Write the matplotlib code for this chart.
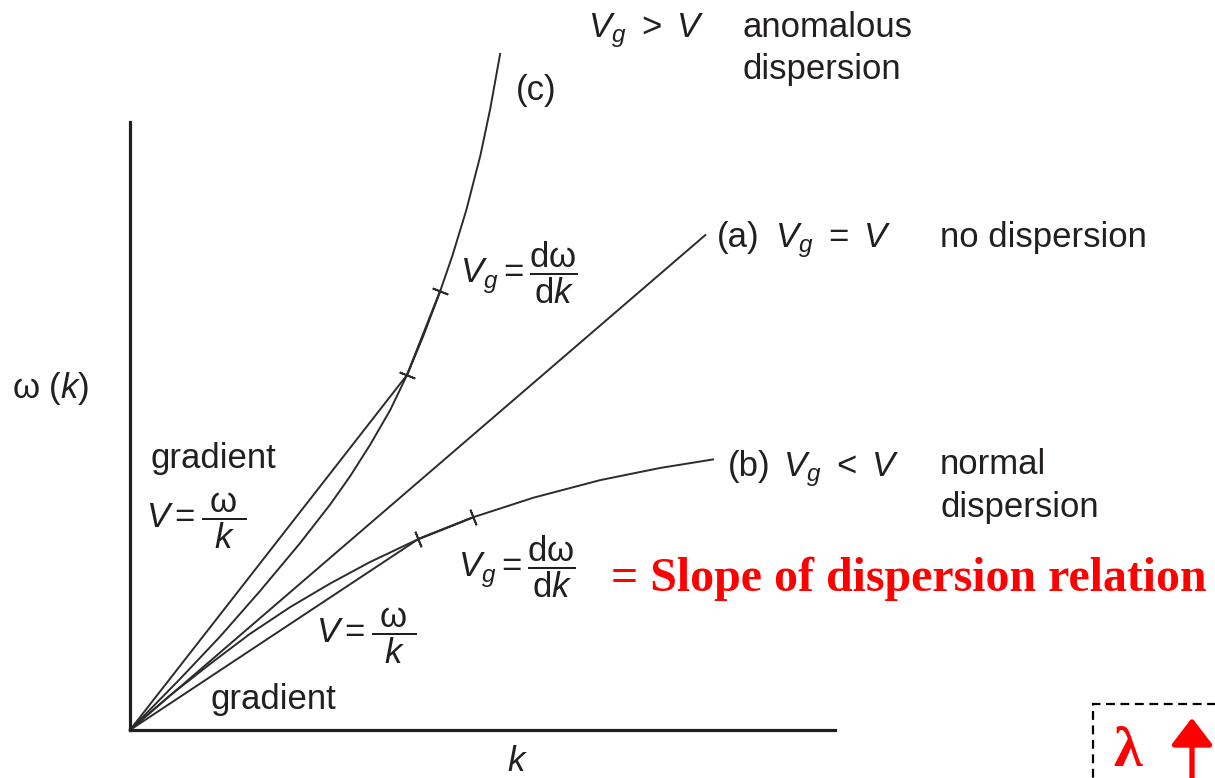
import numpy as np
import matplotlib
matplotlib.use('Agg')
import matplotlib.pyplot as plt
from matplotlib.patches import Rectangle, FancyArrowPatch

plt.rcParams['font.family'] = ['Liberation Sans', 'DejaVu Sans']
plt.rcParams['mathtext.fontset'] = 'custom'
plt.rcParams['mathtext.rm'] = 'Liberation Sans'
plt.rcParams['mathtext.it'] = 'Liberation Sans:italic'
plt.rcParams['mathtext.bf'] = 'Liberation Sans:bold'

W, H = 1215, 778

# dispersion curves, omega(k) in arbitrary units
k_anom = [0.0, 0.71, 1.28, 1.84, 2.41, 2.84, 3.12, 3.40, 3.69, 3.93, 4.16, 4.40,
          4.57, 4.77, 4.97, 5.11, 5.25]
w_anom = [0.0, 0.84, 1.54, 2.28, 3.07, 3.71, 4.17, 4.68, 5.26, 5.84, 6.48, 7.22,
          7.79, 8.55, 9.45, 10.22, 11.12]

k_norm = [0.0, 0.57, 1.14, 1.70, 2.27, 2.84, 3.40, 4.09, 4.87, 5.72, 6.67,
          7.52, 8.27]
w_norm = [0.0, 0.57, 1.09, 1.58, 2.02, 2.41, 2.76, 3.14, 3.50, 3.82, 4.11,
          4.31, 4.45]

k_lin = [0.0, 8.16]
w_lin = [0.0, 8.14]

# points where phase velocity (chord) and group velocity (tangent) are taken
anom_pts = [(3.93, 5.84), (4.40, 7.22)]
norm_pts = [(4.09, 3.14), (4.87, 3.50)]

line_col = '#2b2b2b'
axis_col = '#231f20'


def px(x, y):
    return x / W, 1 - y / H


fig = plt.figure(figsize=(W / 100, H / 100), dpi=100)
ax = fig.add_axes([130 / W, 48 / H, 705 / W, 608 / H])
ax.set_xlim(0, 10)
ax.set_ylim(0, 10)
for s in ['top', 'right']:
    ax.spines[s].set_visible(False)
for s in ['left', 'bottom']:
    ax.spines[s].set_linewidth(2.3)
    ax.spines[s].set_color(axis_col)
ax.set_xticks([])
ax.set_yticks([])
ax.patch.set_alpha(0)

ax.plot(k_anom, w_anom, color=line_col, lw=1.4, clip_on=False)
ax.plot(k_norm, w_norm, color=line_col, lw=1.4, clip_on=False)
ax.plot(k_lin, w_lin, color=line_col, lw=1.4, clip_on=False)


def chord_and_tangent(pts):
    (x1, y1), (x2, y2) = pts
    ax.plot([0, x1], [0, y1], color=line_col, lw=1.4, clip_on=False)
    ax.plot([x1, x2], [y1, y2], color=line_col, lw=1.6, clip_on=False)
    d = ax.transData.transform([(x2, y2)]) - ax.transData.transform([(x1, y1)])
    ang = np.degrees(np.arctan2(d[0][1], d[0][0]))
    for x, y in pts:
        ax.plot([x], [y], marker=(2, 2, ang), ms=12, mew=1.3,
                color=line_col, clip_on=False)


chord_and_tangent(anom_pts)
chord_and_tangent(norm_pts)

fs = 25
txt = dict(fontsize=fs, color='#231f20', va='baseline', ha='left')

fig.text(*px(588, 37), r'$V_g\ >\ V$', **txt)
fig.text(*px(743, 37), 'anomalous', **txt)
fig.text(*px(743, 79), 'dispersion', **txt)
fig.text(*px(516, 100), '(c)', **txt)

fig.text(*px(717, 247), '(a)', **txt)
fig.text(*px(775, 247), r'$V_g\ =\ V$', **txt)
fig.text(*px(940, 247), 'no dispersion', **txt)

fig.text(*px(728, 476), '(b)', **txt)
fig.text(*px(783, 476), r'$V_g\ <\ V$', **txt)
fig.text(*px(940, 474), 'normal', **txt)
fig.text(*px(940, 517), 'dispersion', **txt)

frac_g = r'$V_g = \dfrac{\mathrm{d\omega}}{\mathrm{d}k}$'
frac_p = r'$V = \dfrac{\;\mathrm{\omega}\;}{k}$'
fig.text(*px(460, 283), frac_g, **txt)
fig.text(*px(458, 577), frac_g, **txt)
fig.text(*px(146, 528), frac_p, **txt)
fig.text(*px(316, 643), frac_p, **txt)

fig.text(*px(150, 468), 'gradient', **txt)
fig.text(*px(210, 709), 'gradient', **txt)

fig.text(*px(12, 398), r'$\mathrm{\omega}\ (k)$', **txt)
fig.text(*px(507, 771), r'$k$', **txt)

fig.text(*px(611, 591), '= Slope of dispersion relation', fontsize=34.5,
         color='red', fontweight='bold', family=['Liberation Serif', 'DejaVu Serif'],
         va='baseline', ha='left')

box = Rectangle(px(1093, 800), 200 / W, 96 / H, transform=fig.transFigure,
                fill=False, edgecolor='black', lw=1.6, linestyle=(0, (4, 2.5)),
                clip_on=False)
fig.patches.append(box)
fig.text(*px(1113, 766), 'λ', fontsize=42, color='red', fontweight='bold',
         family=['Liberation Serif', 'DejaVu Serif'], va='baseline', ha='left')
arrow = FancyArrowPatch(px(1192, 800), px(1192, 715), transform=fig.transFigure,
                        arrowstyle='-|>,head_length=0.55,head_width=0.42',
                        mutation_scale=30, color='red', lw=3.8)
fig.patches.append(arrow)

fig.savefig('out.png', dpi=100)
